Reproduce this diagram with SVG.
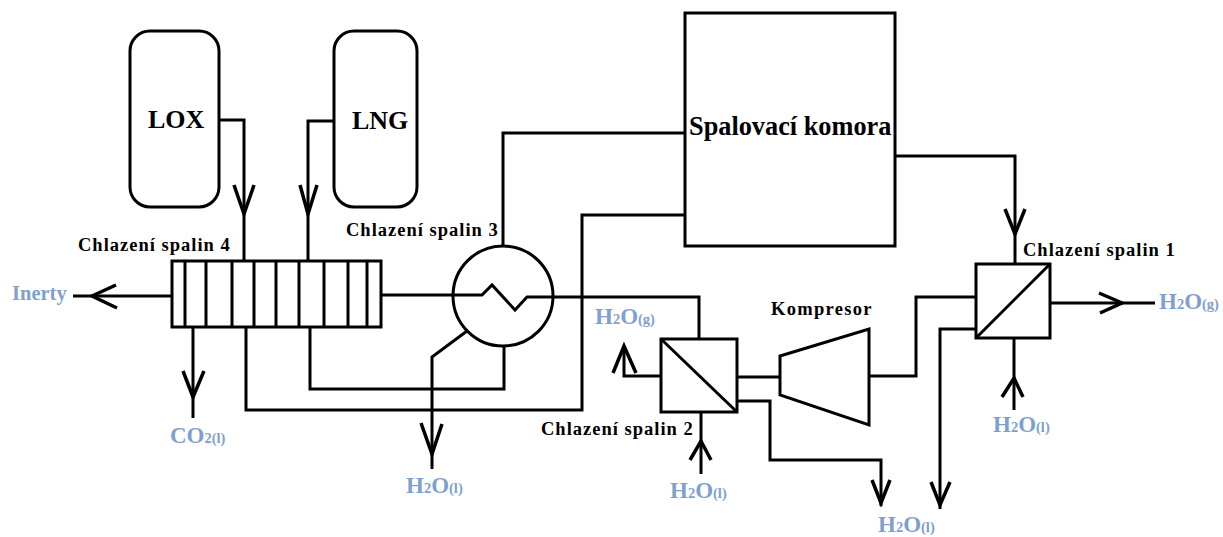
<svg xmlns="http://www.w3.org/2000/svg" width="1223" height="537" viewBox="0 0 1223 537">
<style>
.l{fill:none;stroke:#000;stroke-width:3}
.n{fill:#fff;stroke:#000;stroke-width:3}
.h{fill:none;stroke:#000;stroke-width:3.5}
text{font-family:"Liberation Serif","Times New Roman",serif;font-weight:bold}
.t{font-size:18.5px;fill:#000;letter-spacing:1px}
.b{font-size:23px;fill:#7f9fcf}
.s{font-size:14.5px}
.big{font-size:26px;fill:#000}
</style>
<rect width="1223" height="537" fill="#fff"/>
<g id="connectors" class="l">
<path d="M219 120H244V261"/><path class="h" d="M234 185L244 214L254 185"/>
<path d="M333 121H308V261"/><path class="h" d="M300 185L308 214L317 185"/>
<path d="M172 296H73"/><path class="h" d="M116 285L92 296L117 308"/>
<path d="M193 328V418"/><path class="h" d="M183 371L193 397L204 371"/>
<path d="M246 328V410H582V215H685"/>
<path d="M310 328V389H504V347"/>
<path d="M503 246V133H685"/>
<path d="M382 295H482L492 285L515 310L527 297H699V339"/>
<path d="M467 331L432 357V469"/><path class="h" d="M421 423L432 454L442 424"/>
<path d="M660 376H624V346"/><path class="h" d="M613 373L624 346L636 373"/>
<path d="M701 412V474"/><path class="h" d="M690 460L701 441L711 460"/>
<path d="M737 377H780"/>
<path d="M737 401H770V460H881V506"/><path class="h" d="M872 480L881 503L890 480"/>
<path d="M870 376H916V297H976"/>
<path d="M976 329H940V509"/><path class="h" d="M931 482L940 505L950 482"/>
<path d="M895 156H1015V264"/><path class="h" d="M1005 209L1015 234L1025 209"/>
<path d="M1014 338V410"/><path class="h" d="M1002 397L1014 378L1023 397"/>
<path d="M1050 303H1155"/><path class="h" d="M1099 293L1122 303L1100 313"/>
</g>
<g id="lox"><rect class="n" x="130" y="31" width="89" height="176" rx="20"/><text class="big" x="148" y="128">LOX</text></g>
<g id="lng"><rect class="n" x="334" y="31" width="83" height="176" rx="20"/><text class="big" x="352" y="129">LNG</text></g>
<g id="komora"><rect class="n" x="685" y="13" width="210" height="233"/><text x="689" y="135" style="font-size:26.3px">Spalovací komora</text></g>
<g id="chlazeni4"><rect class="l" x="172" y="261" width="209" height="66"/>
<path class="l" d="M185 261V327M206 261V327M232 261V327M254 261V327M276 261V327M299 261V327M324 261V327M348 261V327M367 261V327"/>
<text class="t" x="78" y="251">Chlazení spalin 4</text></g>
<g id="chlazeni3"><circle class="l" cx="503" cy="296" r="50"/><text class="t" x="346" y="236">Chlazení spalin 3</text></g>
<g id="chlazeni2"><rect class="n" x="661" y="339" width="76" height="73"/><path class="l" d="M661 339L737 412"/><text class="t" x="541" y="435">Chlazení spalin 2</text></g>
<g id="kompresor"><path class="n" d="M780 356L869 329V425L780 395Z"/><text class="t" x="771" y="315" style="letter-spacing:1.3px">Kompresor</text></g>
<g id="chlazeni1"><rect class="n" x="976" y="264" width="74" height="74"/><path class="l" d="M976 338L1050 264"/><text class="t" x="1023" y="256">Chlazení spalin 1</text></g>
<g id="labels">
<text class="b" x="12" y="300" style="font-size:20.5px">Inerty</text>
<text class="b" x="170" y="443">CO<tspan class="s">2(l)</tspan></text>
<text class="b" x="406" y="493">H<tspan class="s">2</tspan>O<tspan class="s">(l)</tspan></text>
<text class="b" x="595" y="324">H<tspan class="s">2</tspan>O<tspan class="s">(g)</tspan></text>
<text class="b" x="670" y="498">H<tspan class="s">2</tspan>O<tspan class="s">(l)</tspan></text>
<text class="b" x="878" y="532">H<tspan class="s">2</tspan>O<tspan class="s">(l)</tspan></text>
<text class="b" x="993" y="432">H<tspan class="s">2</tspan>O<tspan class="s">(l)</tspan></text>
<text class="b" x="1159" y="309">H<tspan class="s">2</tspan>O<tspan class="s">(g)</tspan></text>
</g>
</svg>
